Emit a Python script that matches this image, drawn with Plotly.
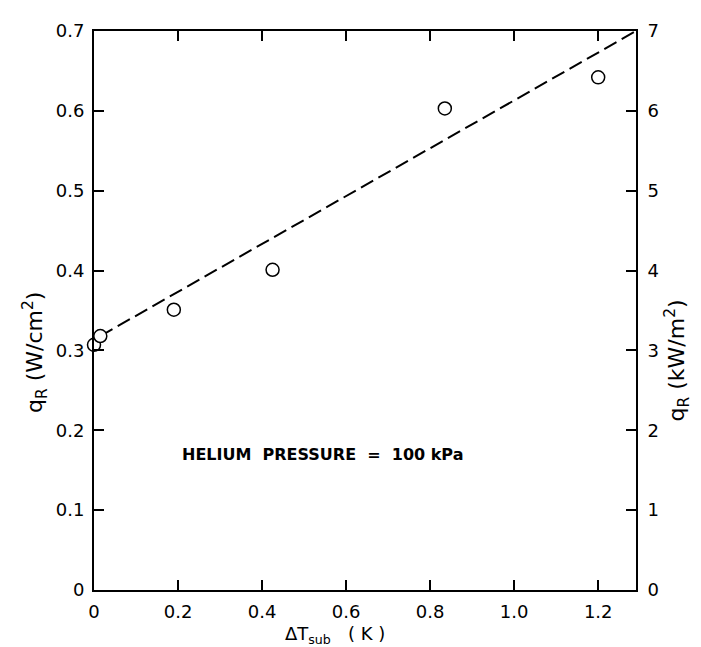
import plotly.graph_objects as go

# data
dT_sub = [0.0, 0.015, 0.19, 0.425, 0.835, 1.2]
q_R = [0.307, 0.318, 0.351, 0.401, 0.603, 0.642]
fit_x = [0.015, 1.29]
fit_y = [0.318, 0.70]

x_ticks = [0, 0.2, 0.4, 0.6, 0.8, 1.0, 1.2]
x_ticktext = ["0", "0.2", "0.4", "0.6", "0.8", "1.0", "1.2"]
y_ticks = [0, 0.1, 0.2, 0.3, 0.4, 0.5, 0.6, 0.7]
y_ticktext = ["0", "0.1", "0.2", "0.3", "0.4", "0.5", "0.6", "0.7"]
y2_ticks = [0, 1, 2, 3, 4, 5, 6, 7]
y2_ticktext = ["0", "1", "2", "3", "4", "5", "6", "7"]

FONT = "DejaVu Sans"
NB = "\u00a0"

fig = go.Figure()
fig.add_trace(go.Scatter(
    x=fit_x, y=fit_y, mode="lines",
    line=dict(color="black", width=2, dash="14px,6px"),
    showlegend=False, hoverinfo="skip"))
fig.add_trace(go.Scatter(
    x=dT_sub, y=q_R, mode="markers",
    marker=dict(symbol="circle", size=13, color="white",
                line=dict(color="black", width=1.5)),
    cliponaxis=False, showlegend=False))
# invisible trace to activate the right axis
fig.add_trace(go.Scatter(x=[0], y=[0], yaxis="y2", mode="markers",
                         marker=dict(opacity=0), showlegend=False, hoverinfo="skip"))

axis_common = dict(
    showgrid=False, zeroline=False, showline=True, linecolor="black",
    linewidth=2, ticks="inside", ticklen=10, tickwidth=1.5, tickcolor="black",
    tickfont=dict(family=FONT, size=18, color="black"))

fig.update_layout(
    width=701, height=647,
    margin=dict(l=86, r=73, t=12, b=65),
    paper_bgcolor="white", plot_bgcolor="white",
    font=dict(family=FONT, color="black"),
    xaxis=dict(range=[0, 1.29], tickvals=x_ticks, ticktext=x_ticktext,
               mirror="ticks", ticklabelstandoff=4, **axis_common),
    yaxis=dict(range=[0, 0.7], tickvals=y_ticks, ticktext=y_ticktext,
               ticklabelstandoff=4, **axis_common),
    yaxis2=dict(range=[0, 7], tickvals=y2_ticks, ticktext=y2_ticktext,
                overlaying="y", side="right", ticklabelstandoff=6, **axis_common),
)

fig.add_annotation(text="q<sub>R</sub>" + NB + "(W/cm<sup>2</sup>)",
                   textangle=-90,
                   xref="paper", yref="paper", x=-0.108, y=0.425,
                   xanchor="center", yanchor="middle", showarrow=False,
                   font=dict(family=FONT, size=22, color="black"))
fig.add_annotation(text="q<sub>R</sub>" + NB + "(kW/m<sup>2</sup>)",
                   textangle=-90,
                   xref="paper", yref="paper", x=1.075, y=0.41,
                   xanchor="center", yanchor="middle", showarrow=False,
                   font=dict(family=FONT, size=22, color="black"))
fig.add_annotation(text="ΔT<sub>sub</sub>" + NB * 3 + "(" + NB + "K" + NB + ")",
                   xref="paper", yref="paper", x=0.445, y=-0.105,
                   xanchor="center", yanchor="bottom", showarrow=False,
                   font=dict(family=FONT, size=18, color="black"))
fig.add_annotation(text="<b>HELIUM" + NB * 2 + "PRESSURE" + NB * 2 + "=" + NB * 2 + "100 kPa</b>",
                   xref="x", yref="y", x=0.544, y=0.17,
                   xanchor="center", yanchor="middle", showarrow=False,
                   font=dict(family=FONT, size=16, color="black"))

fig.write_html("out.html")
